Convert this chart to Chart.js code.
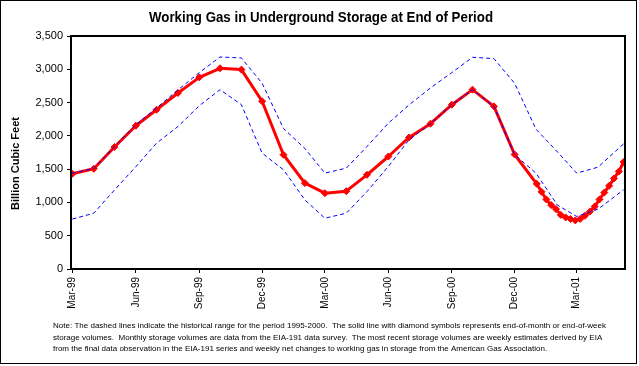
<!DOCTYPE html>
<html>
<head>
<meta charset="utf-8">
<script src="https://cdn.jsdelivr.net/npm/chart.js@4.4.1/dist/chart.umd.min.js"></script>
<style>
html,body{margin:0;padding:0;background:#fff;}
canvas{display:block;}
</style>
</head>
<body>
<canvas id="c" width="639" height="366"></canvas>
<script>
// ---------- data ----------
const titleText = 'Working Gas in Underground Storage at End of Period';
const yAxisTitle = 'Billion Cubic Feet';
const noteLines = [
  'Note: The dashed lines indicate the historical range for the period 1995-2000.  The solid line with diamond symbols represents end-of-month or end-of-week',
  'storage volumes.  Monthly storage volumes are data from the EIA-191 data survey.  The most recent storage volumes are weekly estimates derived by EIA',
  'from the final data observation in the EIA-191 series and weekly net changes to working gas in storage from the American Gas Association.'
];

// solid red line: end-of-month (monthly) then weekly estimates
const storageDates = [
  '1999-03-01','1999-04-01','1999-05-01','1999-06-01','1999-07-01','1999-08-01','1999-09-01','1999-10-01','1999-11-01','1999-12-01',
  '2000-01-01','2000-02-01','2000-03-01','2000-04-01','2000-05-01','2000-06-01','2000-07-01','2000-08-01','2000-09-01','2000-10-01','2000-11-01','2000-12-01',
  '2001-01-02','2001-01-09','2001-01-16','2001-01-23','2001-01-30','2001-02-06','2001-02-13','2001-02-20','2001-02-27',
  '2001-03-06','2001-03-13','2001-03-20','2001-03-27','2001-04-03','2001-04-10','2001-04-17','2001-04-24','2001-05-01','2001-05-08'
];
const storageValues = [
  1430,1505,1832,2152,2393,2644,2879,3015,2995,2520,
  1716,1290,1139,1169,1415,1690,1976,2182,2468,2694,2443,1720,
  1280,1160,1045,960,900,813,775,752,730,
  752,800,862,938,1045,1148,1249,1360,1464,1606
];

// dashed blue lines: historical range 1995-2000
const rangeDates = [
  '1999-03-01','1999-04-01','1999-05-01','1999-06-01','1999-07-01','1999-08-01','1999-09-01','1999-10-01','1999-11-01','1999-12-01',
  '2000-01-01','2000-02-01','2000-03-01','2000-04-01','2000-05-01','2000-06-01','2000-07-01','2000-08-01','2000-09-01','2000-10-01','2000-11-01','2000-12-01',
  '2001-01-01','2001-02-01','2001-03-01','2001-04-01','2001-05-08'
];
const rangeMax = [
  1440,1510,1840,2170,2420,2690,2950,3185,3170,2790,
  2110,1810,1440,1515,1840,2190,2465,2720,2950,3180,3160,2790,
  2100,1760,1440,1530,1880
];
const rangeMin = [
  750,838,1186,1538,1890,2140,2453,2694,2468,1741,
  1490,1038,763,838,1163,1540,1941,2182,2468,2694,2443,1716,
  1440,960,790,900,1190
];

const tickDates = ['1999-03-01','1999-06-01','1999-09-01','1999-12-01','2000-03-01','2000-06-01','2000-09-01','2000-12-01','2001-03-01'];
const tickLabels = ['Mar-99','Jun-99','Sep-99','Dec-99','Mar-00','Jun-00','Sep-00','Dec-00','Mar-01'];
const yTicks = [0,500,1000,1500,2000,2500,3000,3500];

// ---------- helpers ----------
const BASE = Date.UTC(1999, 2, 1);
function toDay(s){ const p = s.split('-').map(Number); return (Date.UTC(p[0], p[1]-1, p[2]) - BASE) / 86400000; }
function hasFont(name){
  const c = document.createElement('canvas').getContext('2d');
  const s = 'abcdefghijWMmw0123456789';
  c.font = '20px monospace'; const a = c.measureText(s).width;
  c.font = '20px "' + name + '", monospace'; const b = c.measureText(s).width;
  return a !== b;
}
const HAS_NARROW = hasFont('Liberation Sans Narrow');
const SANS = '"Liberation Sans", Arial, sans-serif';
const NARROW = HAS_NARROW ? '"Liberation Sans Narrow", ' + SANS : SANS;

function fittedText(ctx, text, x, y, maxW, font, align){
  ctx.save();
  ctx.font = font;
  const w = ctx.measureText(text).width;
  const sx = w > 0 ? maxW / w : 1;
  ctx.translate(x, y);
  ctx.scale(sx, 1);
  ctx.textAlign = align;
  ctx.textBaseline = 'alphabetic';
  ctx.fillText(text, 0, 0);
  ctx.restore();
}

const decor = {
  id: 'decor',
  beforeDraw(chart){
    const c = chart.ctx; c.save(); c.fillStyle = '#fff'; c.fillRect(0, 0, chart.width, chart.height); c.restore();
  },
  afterDraw(chart){
    const c = chart.ctx, a = chart.chartArea;
    c.save();
    c.strokeStyle = '#000';
    c.lineWidth = 2;
    c.strokeRect(a.left, a.top, a.right - a.left, a.bottom - a.top);
    c.lineWidth = 1;
    c.strokeRect(0.5, 0.5, 636, 363);
    c.fillStyle = '#000';
    // title
    fittedText(c, titleText, 321, 22, 344, 'bold 15.5px ' + NARROW, 'center');
    // y axis title
    c.save();
    c.translate(19, 163.5);
    c.rotate(-Math.PI / 2);
    c.font = 'bold 11px ' + SANS;
    c.textAlign = 'center';
    c.textBaseline = 'alphabetic';
    c.fillText(yAxisTitle, 0, 0);
    c.restore();
    // note
    c.font = '8px ' + SANS;
    const w1 = c.measureText(noteLines[0]).width;
    const sx = 553 / w1;
    const baselines = [328, 339.5, 351];
    noteLines.forEach((t, i) => {
      c.save();
      c.translate(53, baselines[i]);
      c.scale(sx, 1);
      c.textAlign = 'left';
      c.textBaseline = 'alphabetic';
      c.fillText(t, 0, 0);
      c.restore();
    });
    c.restore();
  }
};

const tickDays = tickDates.map(toDay);

new Chart(document.getElementById('c').getContext('2d'), {
  type: 'line',
  data: {
    datasets: [
      {
        label: 'Working gas',
        data: storageDates.map((d, i) => ({ x: toDay(d), y: storageValues[i] })),
        borderColor: '#ff0000',
        backgroundColor: '#ff0000',
        borderWidth: 3,
        borderJoinStyle: 'round',
        pointStyle: 'rectRot',
        pointRadius: 3.5,
        pointBorderWidth: 1,
        pointBorderColor: '#ff0000',
        pointBackgroundColor: '#ff0000',
        tension: 0,
        order: 2
      },
      {
        label: 'Historical max',
        data: rangeDates.map((d, i) => ({ x: toDay(d), y: rangeMax[i] })),
        borderColor: '#0000ff',
        borderWidth: 1,
        borderDash: [4, 3],
        pointRadius: 0,
        tension: 0,
        order: 1
      },
      {
        label: 'Historical min',
        data: rangeDates.map((d, i) => ({ x: toDay(d), y: rangeMin[i] })),
        borderColor: '#0000ff',
        borderWidth: 1,
        borderDash: [4, 3],
        pointRadius: 0,
        tension: 0,
        order: 1
      }
    ]
  },
  options: {
    responsive: false,
    animation: false,
    devicePixelRatio: 1,
    events: [],
    layout: { padding: { left: 0, right: 14, top: 36, bottom: 0 } },
    plugins: { legend: { display: false }, tooltip: { enabled: false }, title: { display: false } },
    scales: {
      x: {
        type: 'linear',
        min: -2,
        max: 801,
        afterBuildTicks: s => { s.ticks = tickDays.map(v => ({ value: v })); },
        afterFit: s => { s.height = 97; s.paddingLeft = 0; s.paddingRight = 0; },
        ticks: {
          autoSkip: false,
          maxRotation: 90,
          minRotation: 90,
          padding: 4,
          color: '#000',
          font: { family: HAS_NARROW ? '"Liberation Sans Narrow"' : '"Liberation Sans"', size: HAS_NARROW ? 11 : 10 },
          callback: (v, i) => tickLabels[i]
        },
        grid: { display: true, drawOnChartArea: false, drawTicks: true, tickLength: 4, color: '#000', lineWidth: 1 },
        border: { display: false }
      },
      y: {
        min: 0,
        max: 3500,
        afterBuildTicks: s => { s.ticks = yTicks.map(v => ({ value: v })); },
        afterFit: s => { s.width = 71; },
        ticks: {
          padding: 4,
          color: '#000',
          font: { family: '"Liberation Sans"', size: 11 },
          callback: v => v.toLocaleString('en-US')
        },
        grid: { display: true, drawOnChartArea: false, drawTicks: true, tickLength: 4, color: '#000', lineWidth: 1 },
        border: { display: false }
      }
    }
  },
  plugins: [decor]
});
</script>
</body>
</html>
